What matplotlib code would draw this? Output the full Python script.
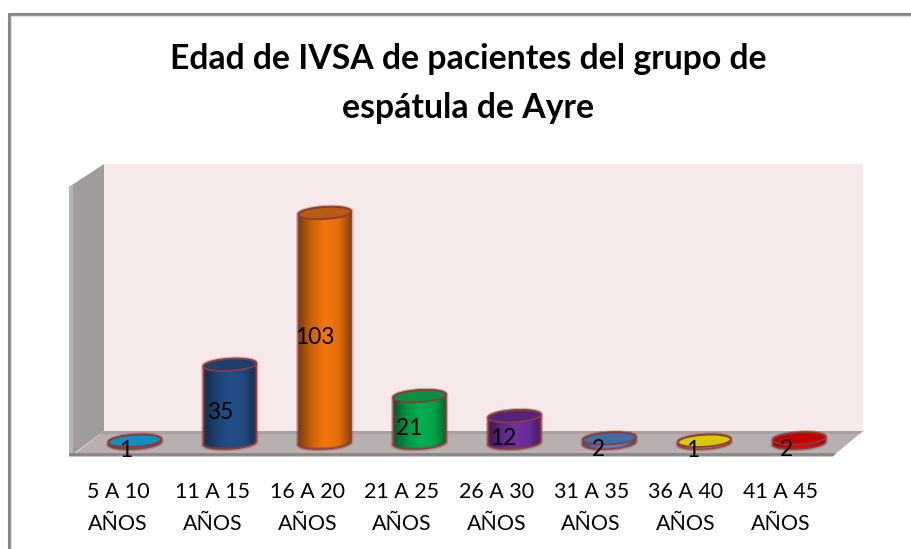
import matplotlib
matplotlib.use('Agg')
import matplotlib.pyplot as plt
import numpy as np
from matplotlib.patches import Polygon, PathPatch
from matplotlib.path import Path
from matplotlib.lines import Line2D
from matplotlib.transforms import Affine2D
from matplotlib.colors import to_rgb, LinearSegmentedColormap

plt.rcParams['font.family'] = ['Lato', 'DejaVu Sans']

title = 'Edad de IVSA de pacientes del grupo de\nespátula de Ayre'
categories = ['5 A 10\nAÑOS', '11 A 15\nAÑOS', '16 A 20\nAÑOS', '21 A 25\nAÑOS',
              '26 A 30\nAÑOS', '31 A 35\nAÑOS', '36 A 40\nAÑOS', '41 A 45\nAÑOS']
values = [1, 35, 103, 21, 12, 2, 1, 2]
side_colors = ['#0F8FC4', '#235089', '#F5760C', '#00B050', '#7030A0', '#5B8FDC', '#D8C800', '#F00000']
top_colors = ['#0F8FC4', '#1C3F6E', '#B85A10', '#0A8F45', '#54247D', '#3F6EA5', '#D8C800', '#C00000']

W, H = 911, 549
X_SCALE = 94.9   # pixels per category
Y_SCALE = 2.233  # pixels per patient
EDGE = '#8F3A3A'

fig = plt.figure(figsize=(W / 100, H / 100), dpi=100, facecolor='white')
# axes box = the 3d room, in pixels 69..863 / 164..456
ax = fig.add_axes([69 / W, (H - 456) / H, (863 - 69) / W, (456 - 164) / H])
ax.patch.set_visible(False)
for s in ax.spines.values():
    s.set_visible(False)

px = Affine2D().scale(1 / W, -1 / H).translate(0, 1) + fig.transFigure


def room(points, color, z=1):
    ax.add_patch(Polygon(points, closed=True, facecolor=color, edgecolor='none',
                         transform=px, clip_on=False, zorder=z))


# paredes y piso
room([(104, 164), (863, 164), (863, 431), (104, 431)], '#F5E9E9')
room([(69, 187), (104, 164), (104, 431), (72, 455)], '#A09C9C')
room([(69, 187), (73, 184), (73, 455), (69, 455)], '#B9B5B5', 1.1)
room([(72, 456), (833, 456), (863, 431), (104, 431)], '#B8B0B0', 1.2)
room([(104, 431), (863, 431), (860, 434), (101, 434)], '#A8A2A2', 1.3)
room([(69, 453), (836, 453), (833, 456.5), (69, 456.5)], '#8C8888', 1.4)

# marco
fig.add_artist(Line2D([8.5, 8.5, W], [H, 13.5, 13.5], color='#868686', lw=2.2, transform=px,
                      solid_joinstyle='miter'))
fig.add_artist(Line2D([10.5, 10.5, W], [H, 15.5, 15.5], color='#DDDDDD', lw=1, transform=px,
                      solid_joinstyle='miter'))


def ellipse_pts(cx, cy, start, stop, n=40):
    # ellipse slightly tilted, sizes in pixels then back to data units
    a, b, tilt = 26.5, 6.0, np.radians(3.5)
    t = np.radians(np.linspace(start, stop, n))
    ex = a * np.cos(t)
    ey = b * np.sin(t)
    rx = ex * np.cos(tilt) - ey * np.sin(tilt)
    ry = ex * np.sin(tilt) + ey * np.cos(tilt)
    return np.column_stack([cx + rx / X_SCALE, cy + ry / Y_SCALE])


def cylinder(cx, val, side, top):
    # lower half of bottom ellipse + upper half of top ellipse = silhouette
    lower = ellipse_pts(cx, 0, 180, 360)
    upper = ellipse_pts(cx, val, 0, 180)
    outline = np.vstack([lower, upper, lower[:1]])
    clip = PathPatch(Path(outline), facecolor='none', edgecolor='none', transform=ax.transData)
    ax.add_patch(clip)
    base = np.array(to_rgb(side))
    cmap = LinearSegmentedColormap.from_list('c', [base * .5, base * .82, base, base * .92, base * .55])
    grad = np.linspace(0, 1, 64).reshape(1, -1)
    half = 28 / X_SCALE
    im = ax.imshow(grad, cmap=cmap, extent=[cx - half, cx + half, -8, val + 8], aspect='auto', zorder=3)
    im.set_clip_path(clip)
    # halo y borde
    ax.plot(outline[:, 0], outline[:, 1], color=EDGE, lw=3, alpha=.35, zorder=3.1)
    ax.plot(outline[:, 0], outline[:, 1], color=EDGE, lw=1.1, alpha=.85, zorder=3.2)
    cap = ellipse_pts(cx, val, 0, 360)
    ax.add_patch(Polygon(cap, closed=True, facecolor=top, edgecolor=EDGE, lw=1.3, zorder=3.3))


x = np.arange(len(values))
for i, v in enumerate(values):
    cylinder(x[i] + 0.01, v, side_colors[i], top_colors[i])

for i, v in enumerate(values):
    ax.annotate(str(v), (x[i] * 0.995, v / 2), xytext=(-8, -9), textcoords='offset pixels',
                ha='center', va='center', fontsize=16.3, color='black', zorder=5,
                annotation_clip=False)

ax.set_xlim(-65 / X_SCALE, 729 / X_SCALE)
ax.set_ylim(-13 / Y_SCALE, 279 / Y_SCALE)
ax.set_yticks([])
ax.set_xticks(x * 0.997 - 0.168, categories, fontsize=15.4, color='black', linespacing=1.75)
ax.tick_params(axis='x', length=0, pad=18.5)

fig.text(468 / W, 1 - 83.5 / H, title, ha='center', va='center', fontsize=24.3,
         fontweight='bold', color='black', linespacing=1.63)

fig.savefig('out.png', dpi=100)
